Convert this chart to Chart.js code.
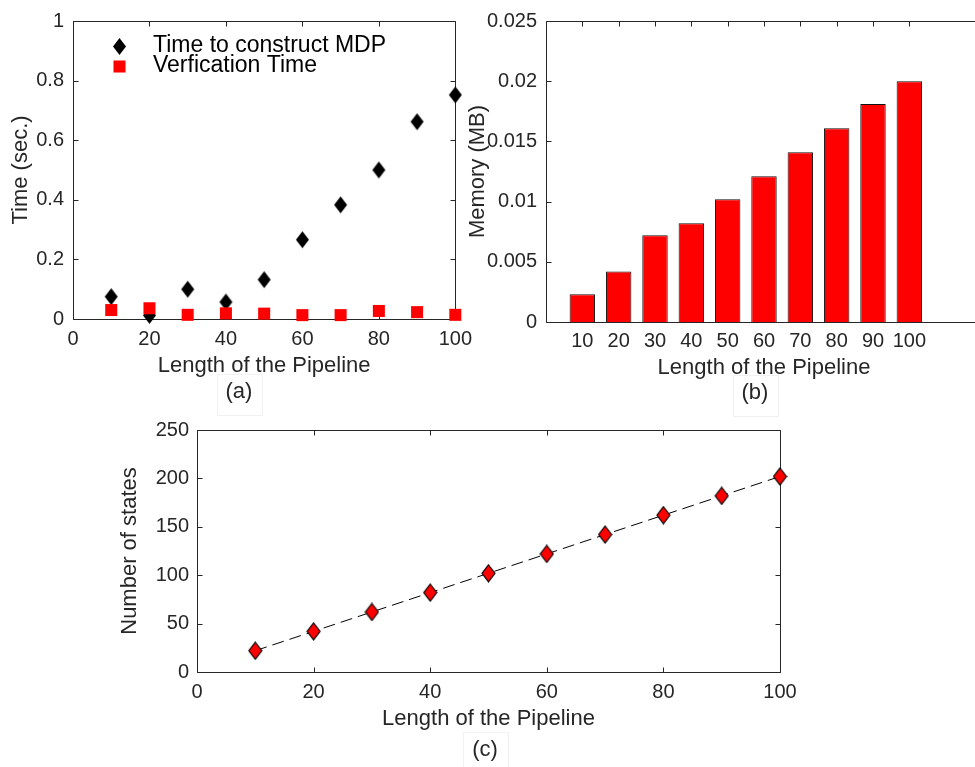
<!DOCTYPE html>
<html>
<head>
<meta charset="utf-8">
<script src="https://cdn.jsdelivr.net/npm/chart.js@4.4.0/dist/chart.umd.min.js"></script>
<style>
  html, body { margin: 0; padding: 0; background: #fff; overflow: hidden; width: 975px; height: 767px; }
  canvas { position: absolute; }
  .cap { position: absolute; font: 22px 'Liberation Sans', Arial, sans-serif; color: #262626;
         line-height: 22px; text-align: center; width: 46px; }
  .capbox { position: absolute; border: 1px solid #f1f1f1; width: 44px; }
</style>
</head>
<body>
<canvas id="timeChart"></canvas>
<canvas id="memoryChart"></canvas>
<canvas id="statesChart"></canvas>

<div class="capbox" style="left:217px; top:374px; height:40px;"></div>
<div class="cap" style="left:216px; top:380px;">(a)</div>
<div class="capbox" style="left:733px; top:375px; height:40px;"></div>
<div class="cap" style="left:732px; top:381px;">(b)</div>
<div class="capbox" style="left:463px; top:732px; height:40px;"></div>
<div class="cap" style="left:462px; top:738px;">(c)</div>

<script>
// ---- data ----
const pipelineLengths = [10, 20, 30, 40, 50, 60, 70, 80, 90, 100];
const mdpBuildTime = [0.075, 0.012, 0.100, 0.057, 0.132, 0.266, 0.383, 0.500, 0.662, 0.752];
const verificationTime = [0.030, 0.036, 0.014, 0.019, 0.018, 0.013, 0.013, 0.027, 0.023, 0.014];
const memoryUse = [0.0023, 0.0042, 0.0072, 0.0082, 0.0102, 0.0121, 0.0141, 0.0161, 0.0181, 0.0200];
const stateCounts = [22, 42, 62, 82, 102, 122, 142, 162, 182, 202];
const memoryCategoryLabels = ['10', '20', '30', '40', '50', '60', '70', '80', '90', '100'];

const FONT = "'Liberation Sans', Arial, Helvetica, sans-serif";
const INK = '#262626';
Chart.defaults.font.family = FONT;
Chart.defaults.color = INK;

// diamond marker sprite (taller than wide)
function diamondSprite(w, h, fill, stroke) {
  const c = document.createElement('canvas');
  c.width = w + 2; c.height = h + 2;
  const g = c.getContext('2d');
  g.beginPath();
  g.moveTo(c.width / 2, 1);
  g.lineTo(c.width - 1, c.height / 2);
  g.lineTo(c.width / 2, c.height - 1);
  g.lineTo(1, c.height / 2);
  g.closePath();
  g.fillStyle = fill;
  g.fill();
  if (stroke) { g.strokeStyle = stroke; g.lineWidth = 1.2; g.stroke(); }
  return c;
}

const fmt = v => String(Math.round(v * 1e6) / 1e6);

// box around the plot area with inward tick marks on every side
const framePlugin = {
  id: 'frame',
  beforeDatasetsDraw(chart) {
    const { ctx, chartArea: a, scales: { x, y } } = chart;
    const p = v => Math.round(v) + 0.5;
    const L = p(a.left), R = p(a.right), T = p(a.top), B = p(a.bottom);
    const len = 5;
    ctx.save();
    ctx.strokeStyle = INK;
    ctx.lineWidth = 1;
    ctx.beginPath();
    ctx.rect(L, T, R - L, B - T);
    x.ticks.forEach(t => {
      const px = p(x.getPixelForValue(t.value));
      ctx.moveTo(px, B); ctx.lineTo(px, B - len);
      ctx.moveTo(px, T); ctx.lineTo(px, T + len);
    });
    y.ticks.forEach(t => {
      const py = p(y.getPixelForValue(t.value));
      ctx.moveTo(L, py); ctx.lineTo(L + len, py);
      ctx.moveTo(R, py); ctx.lineTo(R - len, py);
    });
    ctx.stroke();
    ctx.restore();
  }
};

// legend drawn inside the upper-left corner of the plot area
const innerLegend = {
  id: 'innerLegend',
  afterDatasetsDraw(chart) {
    const { ctx, chartArea: a } = chart;
    ctx.save();
    ctx.font = '23px ' + FONT;
    ctx.fillStyle = '#000';
    ctx.textBaseline = 'alphabetic';
    ctx.textAlign = 'left';
    chart.data.datasets.forEach((ds, i) => {
      const base = a.top + 31 + i * 20;
      const mx = a.left + 46.5, my = base - 5.5;
      if (ds.pointStyle instanceof HTMLCanvasElement) {
        const s = ds.pointStyle;
        ctx.drawImage(s, Math.round(mx - s.width / 2), Math.round(my - s.height / 2));
      } else {
        const side = ds.pointRadius * Math.SQRT2;
        ctx.fillStyle = ds.pointBackgroundColor;
        ctx.fillRect(mx - side / 2, my - side / 2, side, side);
        ctx.fillStyle = '#000';
      }
      ctx.fillText(ds.label, a.left + 80, base);
    });
    ctx.restore();
  }
};

// place a canvas and pin its plot area to a fixed rectangle
function makeChart(id, box, area, cfg) {
  const cv = document.getElementById(id);
  cv.width = box.w; cv.height = box.h;
  cv.style.left = box.x + 'px'; cv.style.top = box.y + 'px';
  cv.style.width = box.w + 'px'; cv.style.height = box.h + 'px';
  const yWidth = area.l - box.x;
  const xHeight = box.y + box.h - area.b;
  cfg.options = Object.assign({
    responsive: false,
    animation: false,
    events: [],
    layout: { padding: { left: 0, bottom: 0, top: area.t - box.y, right: box.x + box.w - area.r } },
    plugins: { legend: { display: false }, tooltip: { enabled: false } },
  }, cfg.options || {});
  const xs = cfg.options.scales.x, ys = cfg.options.scales.y;
  xs.afterFit = s => { s.height = xHeight; };
  ys.afterFit = s => { s.width = yWidth; };
  return new Chart(cv, cfg);
}

function axisCommon(extra) {
  return Object.assign({
    grid: { display: false, drawTicks: false },
    border: { display: false },
  }, extra);
}

const titleFont = { size: 22, family: FONT };
const tickFont = { size: 20, family: FONT };

// (a) construction and verification time
makeChart('timeChart',
  { x: 0, y: 0, w: 480, h: 385 },
  { l: 73, t: 11, r: 466, b: 319 },
  {
    type: 'scatter',
    data: {
      datasets: [
        {
          label: 'Time to construct MDP',
          data: pipelineLengths.map((x, i) => ({ x, y: mdpBuildTime[i] })),
          pointStyle: diamondSprite(13, 17, '#000', null),
          pointRadius: 7,
          showLine: false,
          clip: false,
          order: 1,
        },
        {
          label: 'Verfication Time',
          data: pipelineLengths.map((x, i) => ({ x, y: verificationTime[i] })),
          pointStyle: 'rect',
          pointRadius: 8.5,
          pointBorderWidth: 0,
          pointBackgroundColor: '#ff0000',
          pointBorderColor: '#ff0000',
          showLine: false,
          clip: false,
          order: 0,
        },
      ],
    },
    options: {
      scales: {
        x: axisCommon({
          type: 'linear', min: 0, max: 100,
          ticks: { stepSize: 20, padding: 8, font: tickFont, color: INK, maxRotation: 0, callback: fmt },
          title: { display: true, text: 'Length of the Pipeline', font: titleFont, color: INK, padding: { top: 0, bottom: 5.8 } },
        }),
        y: axisCommon({
          type: 'linear', min: 0, max: 1,
          ticks: { stepSize: 0.2, padding: 9, font: tickFont, color: INK, callback: fmt },
          title: { display: true, text: 'Time (sec.)', font: titleFont, color: INK, padding: { top: 7.8, bottom: 0 } },
        }),
      },
    },
    plugins: [framePlugin, innerLegend],
  });

// (b) memory use per pipeline length
makeChart('memoryChart',
  { x: 455, y: 0, w: 545, h: 385 },
  { l: 546, t: 12, r: 982, b: 322 },
  {
    type: 'bar',
    data: {
      datasets: [{
        label: 'Memory (MB)',
        data: memoryUse.map((v, i) => ({ x: i + 1, y: v })),
        backgroundColor: '#ff0000',
        borderColor: '#111',
        borderWidth: 1,
        barPercentage: 0.7,
        categoryPercentage: 1,
      }],
    },
    options: {
      scales: {
        x: axisCommon({
          type: 'linear', min: 0, max: 12, offset: false,
          afterBuildTicks: s => { s.ticks = memoryCategoryLabels.map((_, i) => ({ value: i + 1 })); },
          ticks: { padding: 7, font: tickFont, color: INK, maxRotation: 0, autoSkip: false,
                   callback: v => memoryCategoryLabels[v - 1] },
          title: { display: true, text: 'Length of the Pipeline', font: titleFont, color: INK, padding: { top: 0, bottom: 3.8 } },
        }),
        y: axisCommon({
          type: 'linear', min: 0, max: 0.025,
          ticks: { stepSize: 0.005, padding: 9, font: tickFont, color: INK, callback: fmt },
          title: { display: true, text: 'Memory (MB)', font: titleFont, color: INK, padding: { top: 9.8, bottom: 0 } },
        }),
      },
    },
    plugins: [framePlugin],
  });

// (c) number of states per pipeline length
makeChart('statesChart',
  { x: 100, y: 410, w: 720, h: 330 },
  { l: 197, t: 430, r: 780, b: 672 },
  {
    type: 'scatter',
    data: {
      datasets: [{
        label: 'Number of states',
        data: pipelineLengths.map((x, i) => ({ x, y: stateCounts[i] })),
        showLine: true,
        borderColor: '#000',
        borderWidth: 1,
        borderDash: [12, 6],
        pointStyle: diamondSprite(13, 17, '#ff0000', '#000'),
        pointRadius: 7,
        clip: false,
      }],
    },
    options: {
      scales: {
        x: axisCommon({
          type: 'linear', min: 0, max: 100,
          ticks: { stepSize: 20, padding: 8, font: tickFont, color: INK, maxRotation: 0, callback: fmt },
          title: { display: true, text: 'Length of the Pipeline', font: titleFont, color: INK, padding: { top: 0, bottom: 7.8 } },
        }),
        y: axisCommon({
          type: 'linear', min: 0, max: 250,
          ticks: { stepSize: 50, padding: 8, font: tickFont, color: INK, callback: fmt },
          title: { display: true, text: 'Number of states', font: titleFont, color: INK, padding: { top: 16.8, bottom: 0 } },
        }),
      },
    },
    plugins: [framePlugin],
  });
</script>
</body>
</html>
